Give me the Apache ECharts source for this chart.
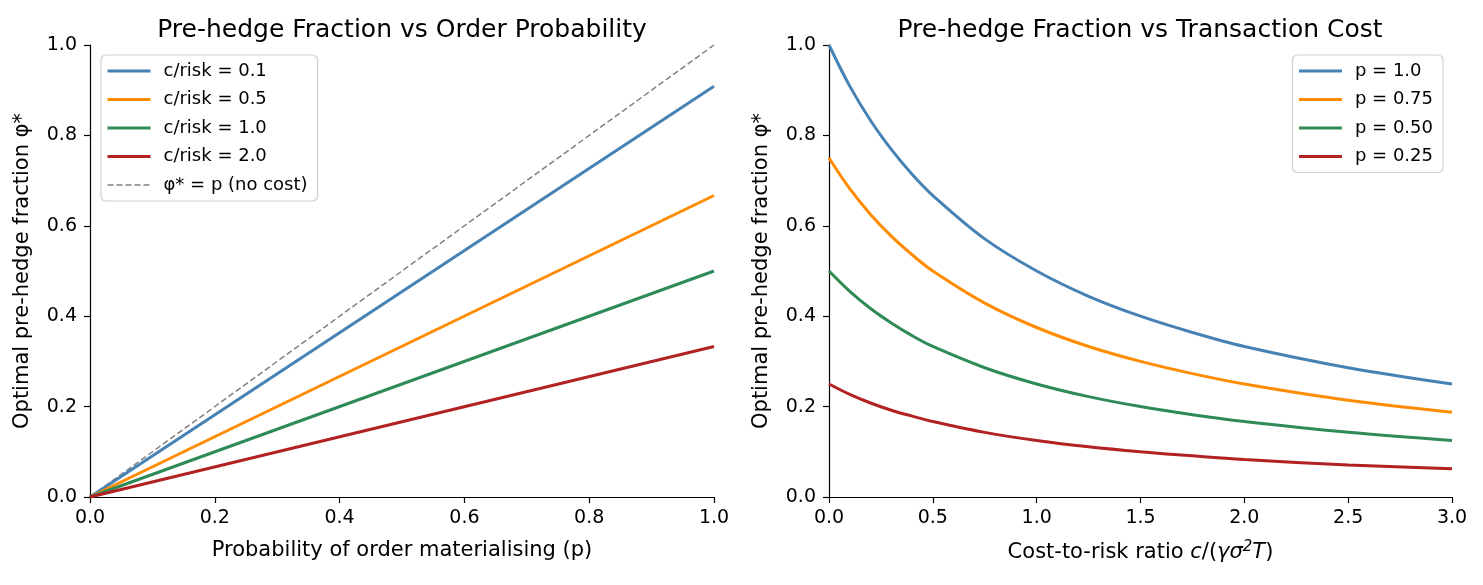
<!DOCTYPE html>
<html>
<head>
<meta charset="utf-8">
<script src="https://cdn.jsdelivr.net/npm/echarts@6/dist/echarts.min.js"></script>
<style>
  html, body { margin: 0; padding: 0; background: #fff; }
  #main { width: 1483px; height: 585px; }
</style>
</head>
<body>
<div id="main"></div>
<script>
// left panel: phi* vs p (straight lines, end points)
var pEnds = [0, 1];
var lineCost01 = [0, 0.909];
var lineCost05 = [0, 0.667];
var lineCost10 = [0, 0.5];
var lineCost20 = [0, 0.333];
var lineNoCost = [0, 1.0];

// right panel: phi* vs cost-to-risk ratio
var costX = [0, 0.1, 0.2, 0.3, 0.4, 0.5, 0.75, 1.0, 1.25, 1.5, 1.75, 2.0, 2.5, 3.0];
var curveP100 = [1.0, 0.909, 0.833, 0.769, 0.714, 0.667, 0.571, 0.5, 0.444, 0.4, 0.364, 0.333, 0.286, 0.25];
var curveP075 = [0.75, 0.682, 0.625, 0.577, 0.536, 0.5, 0.429, 0.375, 0.333, 0.3, 0.273, 0.25, 0.214, 0.1875];
var curveP050 = [0.5, 0.455, 0.417, 0.385, 0.357, 0.333, 0.286, 0.25, 0.222, 0.2, 0.182, 0.167, 0.143, 0.125];
var curveP025 = [0.25, 0.227, 0.208, 0.192, 0.179, 0.167, 0.143, 0.125, 0.111, 0.1, 0.091, 0.083, 0.071, 0.0625];

var leftNames = ['c/risk = 0.1', 'c/risk = 0.5', 'c/risk = 1.0', 'c/risk = 2.0'];
var rightNames = ['p = 1.0', 'p = 0.75', 'p = 0.50', 'p = 0.25'];
var noCostName = 'φ* = p (no cost)';

var colors = ['#4682B4', '#FF8C00', '#2E8B57', '#B22222'];
var font = 'DejaVu Sans';

function pairs(xs, ys) {
  return xs.map(function (x, i) { return [x, ys[i]]; });
}

function curve(name, xs, ys, color, gi) {
  return {
    name: name, type: 'line', xAxisIndex: gi, yAxisIndex: gi,
    data: pairs(xs, ys), showSymbol: false, symbol: 'none',
    smooth: gi === 1 ? 0.35 : false,
    lineStyle: { color: color, width: 3 }, itemStyle: { color: color },
    z: 3
  };
}

function xAxisCfg(gi, max, interval, name) {
  return {
    type: 'value', gridIndex: gi, min: 0, max: max, interval: interval,
    name: name, nameLocation: 'middle', nameGap: 43,
    nameTextStyle: { fontFamily: font, fontSize: 21, color: '#000',
      rich: {
        i: { fontFamily: font, fontSize: 21, fontStyle: 'italic', color: '#000' },
        sup: { fontFamily: font, fontSize: 15, fontStyle: 'italic', color: '#000', padding: [0, 0, 10, 0] }
      } },
    axisLine: { show: true, onZero: false, lineStyle: { color: '#000', width: 1.2 } },
    axisTick: { show: true, length: 6, lineStyle: { color: '#000', width: 1.2 } },
    axisLabel: { fontFamily: font, fontSize: 19, color: '#000', margin: 12,
      formatter: function (v) { return v.toFixed(1); } },
    splitLine: { show: false }
  };
}

function yAxisCfg(gi) {
  return {
    type: 'value', gridIndex: gi, min: 0, max: 1, interval: 0.2,
    name: 'Optimal pre-hedge fraction φ*', nameLocation: 'middle', nameGap: 57, nameRotate: 90,
    nameTextStyle: { fontFamily: font, fontSize: 21, color: '#000' },
    axisLine: { show: true, onZero: false, lineStyle: { color: '#000', width: 1.2 } },
    axisTick: { show: true, length: 6, lineStyle: { color: '#000', width: 1.2 } },
    axisLabel: { fontFamily: font, fontSize: 19, color: '#000', margin: 13,
      formatter: function (v) { return v.toFixed(1); } },
    splitLine: { show: false }
  };
}

function legendItem(name, color, width, type) {
  return { name: name, itemStyle: { opacity: 0 },
    lineStyle: { color: color, width: width, type: type || 'solid' } };
}

var legendBase = {
  orient: 'vertical', itemWidth: 43, itemHeight: 18, itemGap: 10.5,
  backgroundColor: '#fff', borderColor: '#d0d0d0', borderWidth: 1.2, borderRadius: 5,
  padding: [7, 10, 7, 5],
  itemStyle: { opacity: 0 },
  textStyle: { fontFamily: font, fontSize: 18, lineHeight: 18, color: '#000', padding: [0, 0, 0, 8] }
};

var myChart = echarts.init(document.getElementById('main'));

var option = {
  animation: false,
  backgroundColor: '#fff',
  title: [
    { text: 'Pre-hedge Fraction vs Order Probability', left: 397, top: 13, textAlign: 'center',
      textStyle: { fontFamily: font, fontSize: 25, fontWeight: 'normal', color: '#000' } },
    { text: 'Pre-hedge Fraction vs Transaction Cost', left: 1135, top: 13, textAlign: 'center',
      textStyle: { fontFamily: font, fontSize: 25, fontWeight: 'normal', color: '#000' } }
  ],
  grid: [
    { left: 90, right: 769, top: 45, bottom: 88 },
    { left: 829, right: 31, top: 45, bottom: 88 }
  ],
  legend: [
    Object.assign({}, legendBase, {
      left: 101, top: 55,
      data: leftNames.map(function (n, i) { return legendItem(n, colors[i], 3); })
        .concat([legendItem(noCostName, '#808080', 1.5, [6, 3])])
    }),
    Object.assign({}, legendBase, {
      right: 40, top: 55,
      data: rightNames.map(function (n, i) { return legendItem(n, colors[i], 3); })
    })
  ],
  xAxis: [
    xAxisCfg(0, 1, 0.2, 'Probability of order materialising (p)'),
    xAxisCfg(1, 3, 0.5, 'Cost-to-risk ratio {i|c}/({i|γσ}{sup|2}{i|T})')
  ],
  yAxis: [yAxisCfg(0), yAxisCfg(1)],
  series: [
    curve(leftNames[0], pEnds, lineCost01, colors[0], 0),
    curve(leftNames[1], pEnds, lineCost05, colors[1], 0),
    curve(leftNames[2], pEnds, lineCost10, colors[2], 0),
    curve(leftNames[3], pEnds, lineCost20, colors[3], 0),
    {
      name: noCostName, type: 'line', xAxisIndex: 0, yAxisIndex: 0,
      data: pairs(pEnds, lineNoCost), showSymbol: false, symbol: 'none',
      lineStyle: { color: '#808080', width: 1.5, type: [6, 3] }, itemStyle: { color: '#808080' },
      z: 2
    },
    curve(rightNames[0], costX, curveP100, colors[0], 1),
    curve(rightNames[1], costX, curveP075, colors[1], 1),
    curve(rightNames[2], costX, curveP050, colors[2], 1),
    curve(rightNames[3], costX, curveP025, colors[3], 1)
  ]
};

myChart.setOption(option);
</script>
</body>
</html>
